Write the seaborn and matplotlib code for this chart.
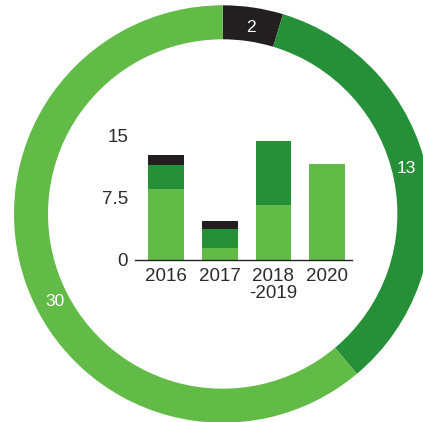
import numpy as np
import pandas as pd
import matplotlib
matplotlib.use("Agg")
import matplotlib.pyplot as plt
import seaborn as sns

# ring data (shares, labels as printed)
ring_labels = ["2", "13", "30"]
ring_shares = [2.1, 15.4, 27.5]
ring_label_angles = [8.6, 76, 242.4]   # degrees clockwise from top

# stacked bars
years = ["2016", "2017", "2018\n-2019", "2020"]
light = [8.57, 1.45, 6.68, 11.58]
dark = [2.89, 2.29, 7.68, 0.0]
black = [1.21, 0.97, 0.0, 0.0]

c_light = "#62bb47"
c_dark = "#259038"
c_black = "#231f20"
txt = "#2b2b2b"

sns.set_theme(style="white")
plt.rcParams["font.family"] = ["Liberation Sans", "DejaVu Sans"]

fig = plt.figure(figsize=(4.23, 4.22), dpi=100)

# donut
ax_ring = fig.add_axes([14 / 423, -0.7 / 422, 417.4 / 423, 417.4 / 422])
ax_ring.pie(ring_shares, colors=[c_black, c_dark, c_light], startangle=90,
            counterclock=False, radius=1.0,
            wedgeprops=dict(width=0.163, edgecolor="none"))
ax_ring.set_xlim(-1, 1)
ax_ring.set_ylim(-1, 1)
ax_ring.set_aspect("equal")
ax_ring.axis("off")
for lab, ang in zip(ring_labels, ring_label_angles):
    a = np.deg2rad(ang)
    ax_ring.text(0.905 * np.sin(a), 0.905 * np.cos(a), lab, color="white",
                 fontsize=12.5, ha="center", va="center")

# inner stacked bar chart
df = pd.DataFrame({"year": years,
                   "l": light,
                   "ld": np.add(light, dark),
                   "ldb": np.add(np.add(light, dark), black)})

ax = fig.add_axes([135 / 423, (422 - 260) / 422, 216.7 / 423, 124.3 / 422])
for col, c in [("ldb", c_black), ("ld", c_dark), ("l", c_light)]:
    sns.barplot(data=df, x="year", y=col, color=c, width=0.666,
                saturation=1, linewidth=0, ax=ax, order=years)

ax.set_xlim(-0.582, 3.46)
ax.set_ylim(0, 15)
ax.set_yticks([0, 7.5, 15])
ax.set_yticklabels(["0", "7.5", "15"])
ax.set_xlabel("")
ax.set_ylabel("")
ax.patch.set_alpha(0)
for s in ["top", "right", "left"]:
    ax.spines[s].set_visible(False)
ax.spines["bottom"].set_color("#222222")
ax.spines["bottom"].set_linewidth(1.0)
ax.tick_params(axis="both", length=0, labelsize=13.5, labelcolor=txt)
ax.tick_params(axis="y", pad=5)
ax.tick_params(axis="x", pad=6)
for t in ax.get_xticklabels():
    t.set_linespacing(0.95)

fig.savefig("out.png", dpi=100)
